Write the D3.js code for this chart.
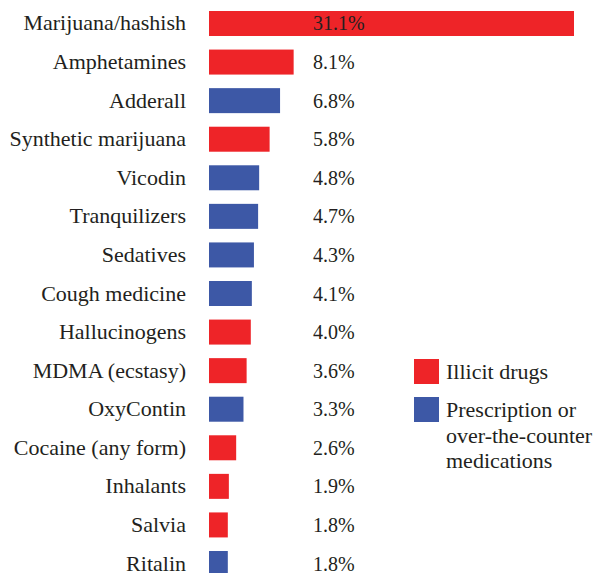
<!DOCTYPE html>
<html><head><meta charset="utf-8">
<script src="https://cdn.jsdelivr.net/npm/d3@7"></script>
</head>
<body style="margin:0">
<svg id="chart" width="598" height="573" font-family="Liberation Serif"></svg>
<script>
const categories = ["Marijuana/hashish","Amphetamines","Adderall","Synthetic marijuana","Vicodin","Tranquilizers","Sedatives","Cough medicine","Hallucinogens","MDMA (ecstasy)","OxyContin","Cocaine (any form)","Inhalants","Salvia","Ritalin"];
const values = [31.1,8.1,6.8,5.8,4.8,4.7,4.3,4.1,4.0,3.6,3.3,2.6,1.9,1.8,1.8];
const types = ["illicit","illicit","rx","illicit","rx","rx","rx","rx","illicit","illicit","rx","illicit","illicit","illicit","rx"];
const legendKeys = ["illicit","rx"];
const legendLabels = [["Illicit drugs"],["Prescription or","over-the-counter","medications"]];

const FONT = "Liberation Serif";
const INK = "#231f20";
const svg = d3.select("#chart");
const color = d3.scaleOrdinal().domain(legendKeys).range(["#ee2428","#3d58a6"]);
// first bar is drawn off-scale (broken scale) as in the original
const x = d3.scaleLinear().domain([0,10,31.1]).range([209,313.5,574]);
const y = d3.scaleBand().domain(categories).range([11,576]).paddingInner(0.352).paddingOuter(0);
const data = categories.map((c,i)=>({c, v:values[i], t:types[i]}));

const fs = 22;
svg.selectAll("rect.bar").data(data).join("rect")
  .attr("x", x(0)).attr("y", d=>y(d.c))
  .attr("width", d=>x(d.v)-x(0)).attr("height", y.bandwidth())
  .attr("fill", d=>color(d.t));

svg.append("g").selectAll("text").data(data).join("text")
  .attr("x",186).attr("y", d=>y(d.c)+y.bandwidth()/2+7)
  .attr("text-anchor","end").attr("font-family",FONT).attr("font-size",fs).attr("fill",INK)
  .text(d=>d.c);

svg.append("g").selectAll("text").data(data).join("text")
  .attr("x",313).attr("y", d=>y(d.c)+y.bandwidth()/2+7)
  .attr("font-family",FONT).attr("font-size",20).attr("fill",INK)
  .text(d=>d.v.toFixed(1)+"%");

const lg = svg.append("g");
const ly = [359,397];
legendKeys.forEach((k,i)=>{
  lg.append("rect").attr("x",414).attr("y",ly[i]).attr("width",25).attr("height",25).attr("fill",color(k));
  legendLabels[i].forEach((t,j)=>{
    lg.append("text").attr("x",446).attr("y",ly[i]+20+j*25.7)
      .attr("font-family",FONT).attr("font-size",fs).attr("fill",INK).text(t);
  });
});
</script>
</body></html>
